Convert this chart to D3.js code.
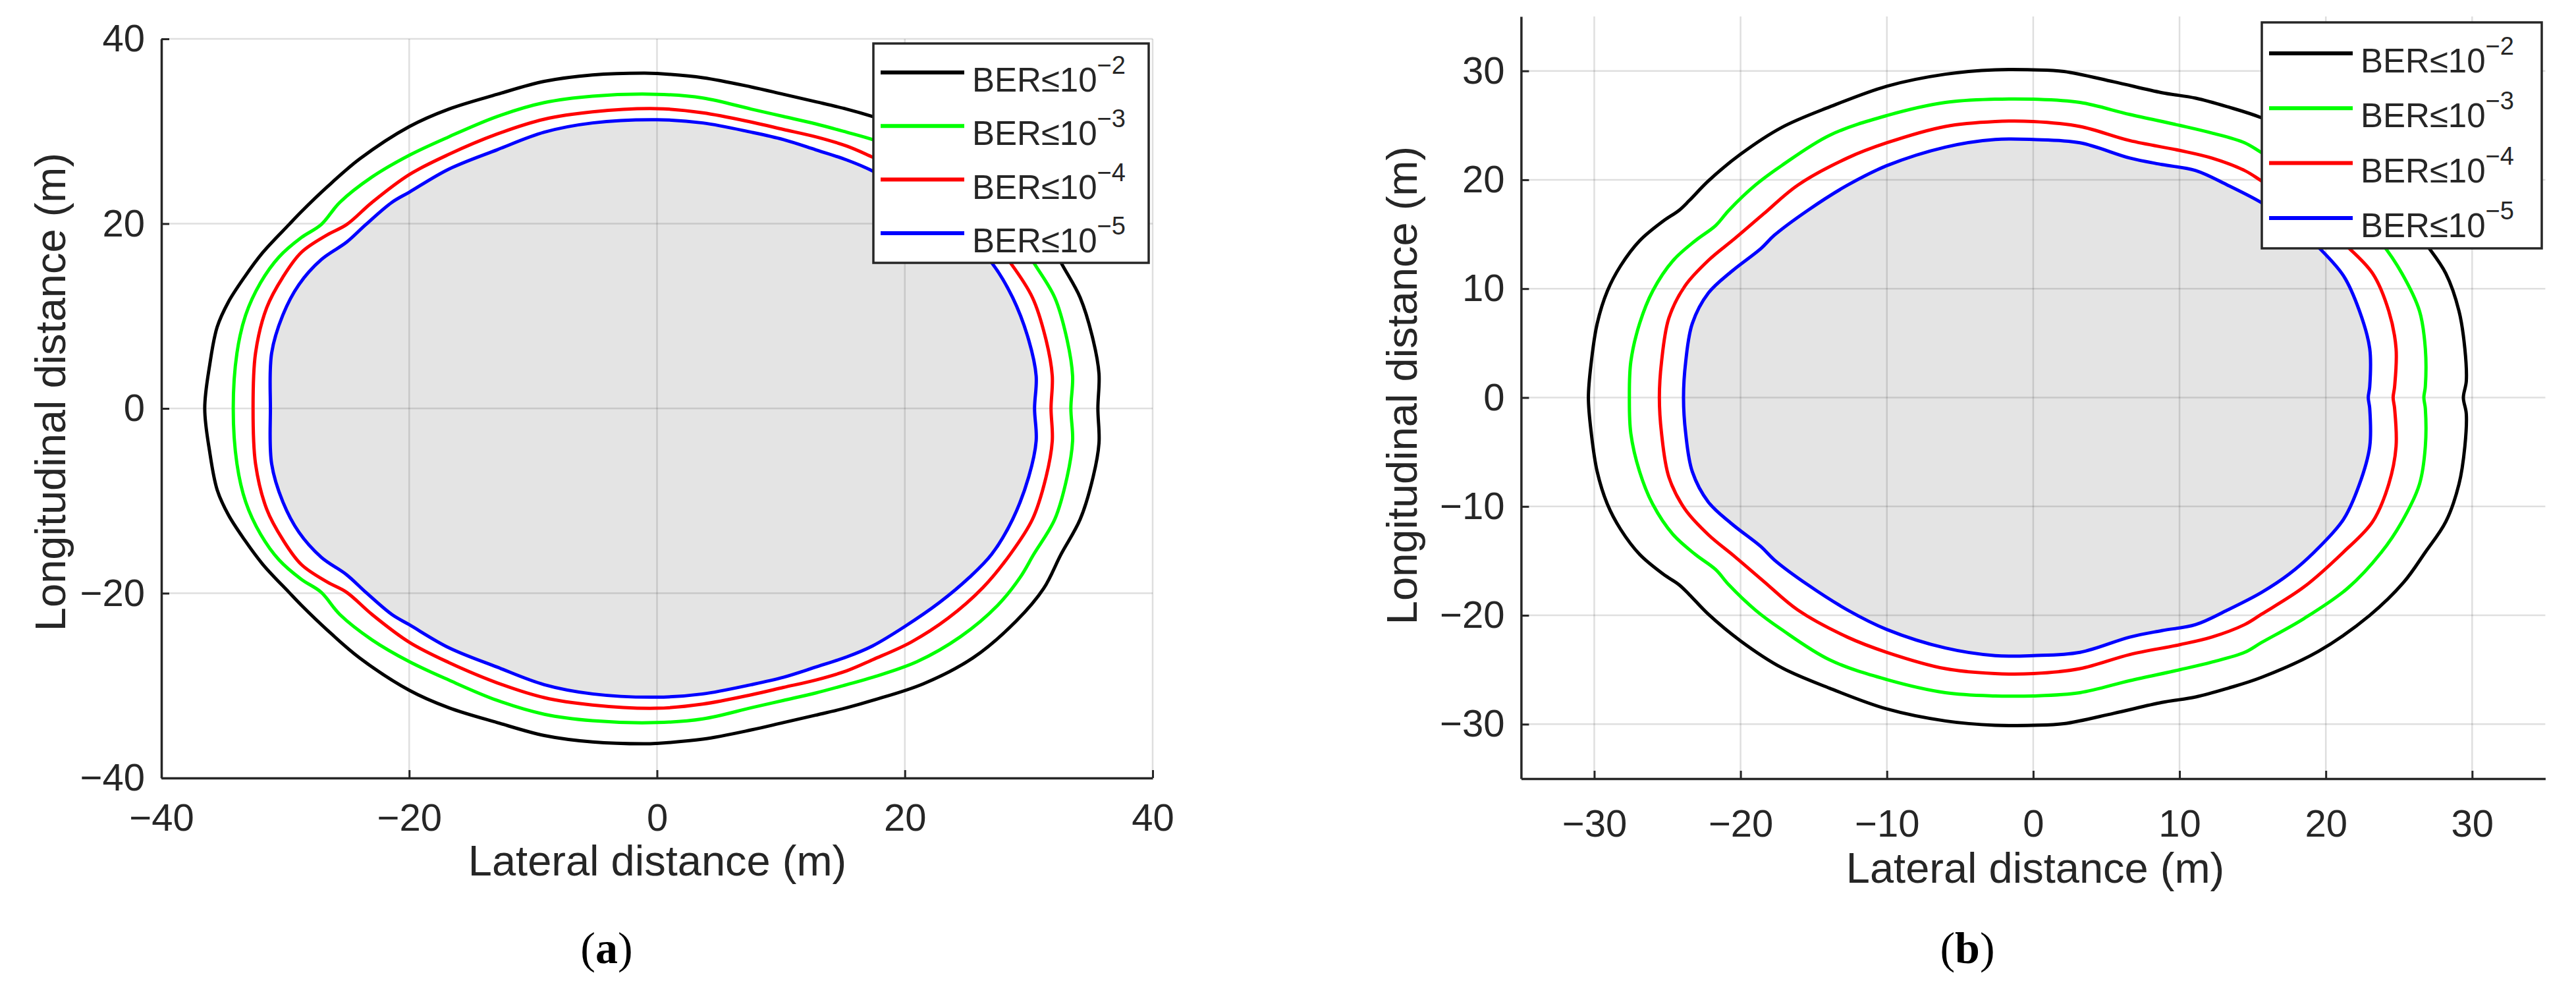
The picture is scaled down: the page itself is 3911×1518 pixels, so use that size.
<!DOCTYPE html>
<html>
<head>
<meta charset="utf-8">
<script src="https://cdn.jsdelivr.net/npm/d3@7"></script>
<style>
  body { margin: 0; background: #fff; }
  text { font-family: "Liberation Sans", Arial, sans-serif; fill: #262626; }
</style>
</head>
<body>
<svg id="fig" width="3911" height="1518"></svg>
<script>
// contour points: upper half only, from the left end (y = 0)
// over the top to the right end (y = 0). the contours are mirror images about y = 0.
var a_ber2 = [[-36.5,0],[-36.1,4.7],[-35.5,8.8],[-34.6,11.5],[-33.3,14.2],[-31.8,16.9],[-29.7,19.9],[-28.7,21.3],
  [-26.6,24.0],[-24.0,27.0],[-20.0,30.5],[-16.8,32.4],[-12.9,34.0],[-9.1,35.4],[-5.2,36.1],[-1,36.3],[0,36.25],
  [3.7,35.8],[7.6,34.8],[10.2,34.0],[12.8,33.2],[15.3,32.4],[17.4,31.6],[21.5,29.8],[25.5,27.0],[29,23],
  [31.2,19.5],[32.6,15.8],[34.15,12.0],[35.2,7.4],[35.67,3.75],[35.58,0]];
var a_ber3 = [[-34.2,0],[-33.9,6.0],[-33.2,10.1],[-32.0,13.6],[-30.5,16.4],[-28.7,18.5],[-27.1,19.9],[-25.6,22.3],
  [-23.0,25.05],[-20.0,27.4],[-16.8,29.4],[-12.9,31.6],[-9.1,33.1],[-5.2,33.8],[0,34.0],[3.7,33.6],[7.6,32.4],
  [10.2,31.6],[12.8,30.8],[15.3,29.9],[17.4,29.1],[21,27.4],[24.5,24.7],[27.5,21.3],[29.3,18.3],[30.4,15.8],
  [32.1,12.0],[33.1,7.4],[33.54,3.5],[33.4,0]];
var a_ber4 = [[-32.6,0],[-32.4,6.0],[-31.5,10.9],[-30.2,14.2],[-28.7,16.9],[-26.6,18.8],[-25.05,19.9],[-23.0,22.3],
  [-20.0,25.3],[-16.8,27.5],[-12.9,29.7],[-9.1,31.3],[-5.2,32.1],[0,32.45],[3.7,32.0],[7.6,31.0],[10.2,30.2],
  [12.8,29.4],[15.3,28.4],[17.4,27.2],[20.5,25.3],[23.5,22.7],[26.3,19.4],[28.5,15.8],[30.3,12.0],[31.4,7.4],
  [31.9,3.5],[31.8,0]];
var a_ber5 = [[-31.2,0],[-31.1,6.0],[-30.2,10.1],[-28.9,13.4],[-27.1,16.1],[-25.05,18.0],[-23.5,19.9],[-21.4,22.3],
  [-20.0,23.4],[-16.8,25.9],[-12.9,28.0],[-9.1,29.9],[-5.2,30.9],[0,31.25],[3.7,30.9],[7.6,29.9],[10.2,29.1],
  [12.8,28.0],[15.3,26.9],[17.4,25.7],[20,23.6],[22.8,21],[25.2,18.3],[27.0,15.8],[28.7,12.0],[30.0,7.4],
  [30.6,3.5],[30.47,0]];

var b_ber2 = [[-30.4,0],[-30.2,3.3],[-29.8,6.8],[-29.1,9.8],[-28.2,12.1],[-26.9,14.4],[-25.3,16.2],[-24.2,17.2],
  [-23.5,18.1],[-22.2,19.9],[-20.0,22.35],[-17.2,24.8],[-13.9,26.7],[-10.0,28.6],[-6.0,29.7],[-2.6,30.1],[0,30.1],
  [2.1,29.95],[5.5,29.0],[8.8,28.0],[11.1,27.5],[13.3,26.7],[15.6,25.7],[19.5,23.3],[23,20],[25.3,17],
  [26.8,14.2],[28.2,11.4],[29.1,7.95],[29.5,4.5],[29.6,1.5],[29.4,0]];
var b_ber3 = [[-27.6,0],[-27.5,3.3],[-26.9,6.8],[-26.0,9.8],[-24.6,12.6],[-23.1,14.4],[-21.7,15.8],[-20.8,17.2],
  [-19.0,19.5],[-17.2,21.3],[-13.9,24.1],[-10.0,25.9],[-6.0,27.1],[-2.6,27.4],[0,27.4],[3.2,27.1],[6.6,26.0],
  [10.0,25.0],[12.2,24.3],[14.45,23.4],[15.6,22.5],[18.5,20.3],[21.5,17.5],[23.8,14.2],[25.2,11.4],[26.4,7.95],
  [26.8,4.5],[26.8,1.0],[26.7,0]];
var b_ber4 = [[-25.55,0],[-25.4,3.3],[-24.9,7.3],[-23.8,10.25],[-22.2,12.6],[-20.4,14.6],[-18.4,16.9],[-16.1,19.5],
  [-12.7,22.0],[-10.0,23.4],[-6.0,24.9],[-2.6,25.35],[0,25.35],[3.2,24.9],[6.6,23.6],[10.0,22.7],[12.2,22.0],
  [14.45,20.85],[15.6,19.9],[18.5,17.4],[21.2,14.2],[23.2,11.4],[24.3,7.95],[24.8,4.5],[24.7,1.0],[24.6,0]];
var b_ber5 = [[-23.9,0],[-23.75,3.3],[-23.3,6.8],[-22.2,9.6],[-20.6,11.6],[-18.6,13.7],[-17.7,14.9],[-15.4,17.2],
  [-12.7,19.5],[-10.0,21.3],[-6.0,23.0],[-2.6,23.7],[0,23.7],[3.2,23.4],[6.6,22.0],[8.8,21.4],[11.1,20.85],
  [13.3,19.5],[15.6,17.9],[17.5,16.2],[19.2,14.2],[21.2,11.2],[22.3,7.95],[23.0,4.5],[23.0,1.0],[22.9,0]];

var exponents = ["\u22122", "\u22123", "\u22124", "\u22125"];
var colors = ["#000000", "#00ff00", "#ff0000", "#0000ff"];
var a_ticks = [-40, -20, 0, 20, 40];
var b_ticks = [-30, -20, -10, 0, 10, 20, 30];

var svg = d3.select("#fig");
svg.append("rect").attr("width", 3911).attr("height", 1518).attr("fill", "#fff");

// mirror the upper half to get the closed contour
function closeLoop(half) {
  var bottom = half.slice(1, -1).reverse().map(function (p) { return [p[0], -p[1]]; });
  return half.concat(bottom);
}

function drawPanel(cfg) {
  var x = d3.scaleLinear().domain(cfg.domain).range([cfg.left, cfg.right]);
  var y = d3.scaleLinear().domain(cfg.domain).range([cfg.bottom, cfg.top]);
  var g = svg.append("g");

  var line = d3.line()
    .x(function (d) { return x(d[0]); })
    .y(function (d) { return y(d[1]); })
    .curve(d3.curveCatmullRomClosed.alpha(0.5));

  var loops = cfg.curves.map(closeLoop);

  // grey area inside the innermost contour
  g.append("path")
    .attr("d", line(loops[3]))
    .attr("fill", "#e4e4e4")
    .attr("stroke", "none");

  // grid
  g.selectAll(".gx").data(cfg.ticks).enter().append("line")
    .attr("x1", function (d) { return x(d); }).attr("x2", function (d) { return x(d); })
    .attr("y1", cfg.top).attr("y2", cfg.bottom)
    .attr("stroke", "#262626").attr("stroke-opacity", 0.15).attr("stroke-width", 2.5);
  g.selectAll(".gy").data(cfg.ticks).enter().append("line")
    .attr("y1", function (d) { return y(d); }).attr("y2", function (d) { return y(d); })
    .attr("x1", cfg.left).attr("x2", cfg.right)
    .attr("stroke", "#262626").attr("stroke-opacity", 0.15).attr("stroke-width", 2.5);

  // axes
  var xAxis = g.append("g").attr("transform", "translate(0," + cfg.bottom + ")")
    .call(d3.axisBottom(x).tickValues(cfg.ticks).tickSizeInner(-12).tickSizeOuter(0).tickPadding(cfg.xPad));
  var yAxis = g.append("g").attr("transform", "translate(" + cfg.left + ",0)")
    .call(d3.axisLeft(y).tickValues(cfg.ticks).tickSizeInner(-12).tickSizeOuter(0).tickPadding(25));
  [xAxis, yAxis].forEach(function (ax) {
    ax.select(".domain").attr("stroke", "#262626").attr("stroke-width", 3.5);
    ax.selectAll(".tick line").attr("stroke", "#262626").attr("stroke-width", 3);
    ax.selectAll(".tick text").attr("font-size", 58).attr("fill", "#262626")
      .attr("font-family", "'Liberation Sans', Arial, sans-serif");
  });

  // contours
  g.selectAll(".contour").data(loops).enter().append("path")
    .attr("d", function (d) { return line(d); })
    .attr("fill", "none")
    .attr("stroke", function (d, i) { return colors[i]; })
    .attr("stroke-width", 5);

  // axis titles
  g.append("text")
    .attr("x", cfg.xTitle[0]).attr("y", cfg.xTitle[1])
    .attr("text-anchor", "middle").attr("font-size", 65)
    .text("Lateral distance (m)");
  g.append("text")
    .attr("transform", "translate(" + cfg.yTitle[0] + "," + cfg.yTitle[1] + ") rotate(-90)")
    .attr("text-anchor", "middle").attr("font-size", 65)
    .text("Longitudinal distance (m)");

  // legend
  var L = cfg.legend;
  var lg = g.append("g");
  lg.append("rect")
    .attr("x", L.x0).attr("y", L.y0)
    .attr("width", L.x1 - L.x0).attr("height", L.y1 - L.y0)
    .attr("fill", "#fff").attr("stroke", "#262626").attr("stroke-width", 3.5);
  var rows = lg.selectAll(".row").data(exponents).enter().append("g")
    .attr("transform", function (d, i) { return "translate(0," + (L.row0 + i * L.step) + ")"; });
  rows.append("line")
    .attr("x1", L.x0 + 11).attr("x2", L.x0 + 138)
    .attr("stroke", function (d, i) { return colors[i]; })
    .attr("stroke-width", 6);
  var t = rows.append("text")
    .attr("x", L.x0 + 150).attr("y", 29)
    .attr("font-size", 51);
  t.append("tspan").text("BER\u226410");
  t.append("tspan").attr("dy", -27).attr("font-size", 38).text(function (d) { return d; });

  // panel caption
  var cap = svg.append("text")
    .attr("x", cfg.caption[0]).attr("y", cfg.caption[1])
    .attr("text-anchor", "middle")
    .attr("font-size", 68)
    .style("font-family", "'Liberation Serif', 'Times New Roman', serif")
    .style("fill", "#000");
  cap.append("tspan").text("(");
  cap.append("tspan").attr("font-weight", "bold").text(cfg.label);
  cap.append("tspan").text(")");
}

drawPanel({
  curves: [a_ber2, a_ber3, a_ber4, a_ber5],
  domain: [-40, 40], ticks: a_ticks,
  left: 245, right: 1750, top: 59, bottom: 1181,
  xPad: 39,
  xTitle: [998, 1329], yTitle: [99, 595],
  legend: { x0: 1326, y0: 66, x1: 1744, y1: 399, row0: 110, step: 81.3 },
  caption: [921, 1462], label: "a"
});

drawPanel({
  curves: [b_ber2, b_ber3, b_ber4, b_ber5],
  domain: [-35, 35], ticks: b_ticks,
  left: 2309.4, right: 3864.4, top: 25, bottom: 1182,
  xPad: 47,
  xTitle: [3090, 1340], yTitle: [2151, 585],
  legend: { x0: 3434, y0: 34, x1: 3859, y1: 377, row0: 81, step: 83.3 },
  caption: [2987, 1462], label: "b"
});
</script>
</body>
</html>
